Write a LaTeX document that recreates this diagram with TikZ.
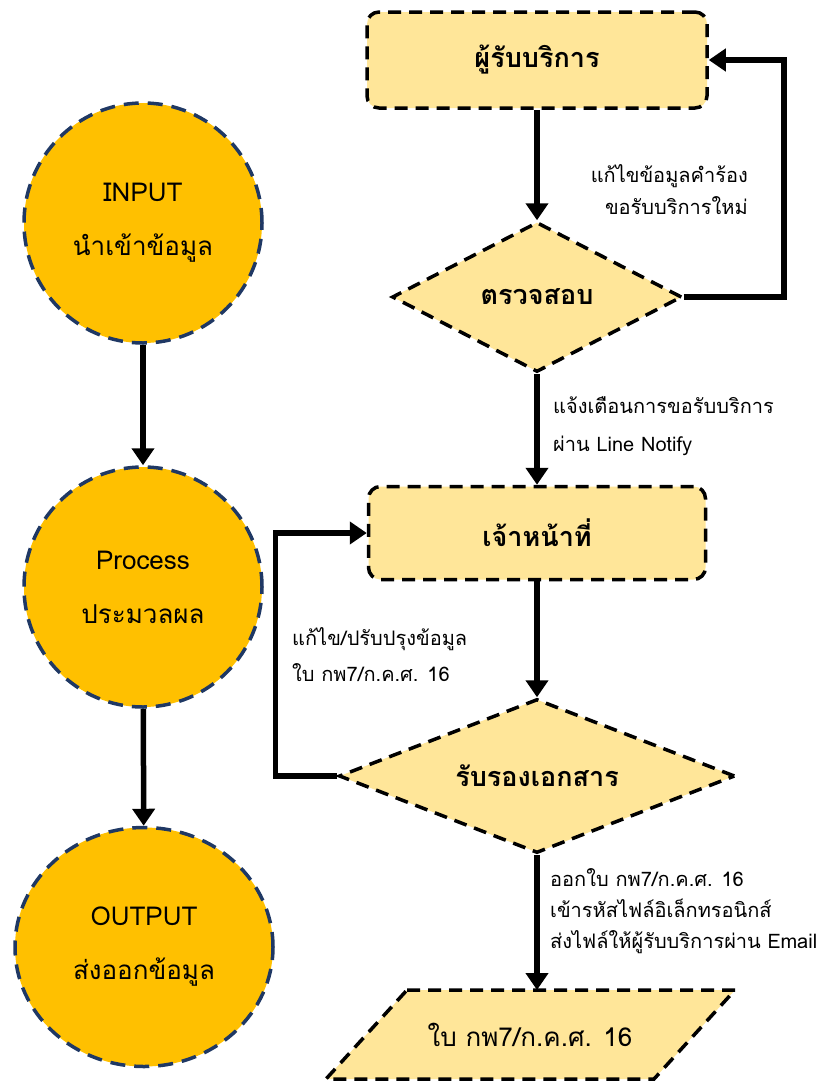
\documentclass[tikz,border=0pt]{standalone}
\usepackage{fontspec}
\usepackage{xcolor}
\usetikzlibrary{arrows.meta,shapes.geometric}
\newfontfamily\thaifont[Script=Thai]{Loma}
\definecolor{gold}{RGB}{255,192,0}
\definecolor{paleGold}{RGB}{255,230,153}
\definecolor{navyDash}{RGB}{31,56,100}

\begin{document}
\begin{tikzpicture}[x=1pt,y=1pt,yscale=-1,xscale=1,
  stage/.style={ellipse,draw=navyDash,fill=gold,line width=3.5pt,dash pattern=on 15pt off 9pt,inner sep=0pt,align=center,font=\thaifont\fontsize{26}{54}\selectfont},
  dashline/.style={draw=black,fill=paleGold,line width=3.5pt,dash pattern=on 13pt off 8pt},
  flowbox/.style={dashline,rectangle,rounded corners=12pt,inner sep=0pt,font=\thaifont\bfseries\fontsize{27}{30}\selectfont},
  decide/.style={dashline,diamond,inner sep=0pt,aspect=2,font=\thaifont\bfseries\fontsize{27}{30}\selectfont},
  note/.style={inner sep=0pt,font=\thaifont\fontsize{20}{32}\selectfont},
  flow/.style={line width=5.5pt,-{Triangle[width=22pt,length=17pt]}}
]
\useasboundingbox (0,0) rectangle (832,1084);

%Shape: Circle
\node [stage,minimum width=238,minimum height=240] (input) at (143,223) {INPUT\\นำเข้าข้อมูล};
%Shape: Circle
\node [stage,minimum width=238,minimum height=240] (process) at (143,587) {Process\\ประมวลผล};
%Shape: Circle
\node [stage,minimum width=258,minimum height=239] (output) at (144,947) {OUTPUT\\ส่งออกข้อมูล};

%Shape: Rectangle
\node [flowbox,minimum width=340,minimum height=96] (user) at (537,60) {ผู้รับบริการ};
%Shape: Diamond
\node [decide,minimum width=290,minimum height=150] (check) at (537,297) {ตรวจสอบ};
%Shape: Rectangle
\node [flowbox,minimum width=337,minimum height=93] (officer) at (537,533) {เจ้าหน้าที่};
%Shape: Diamond
\node [decide,minimum width=396,minimum height=154] (cert) at (537,776) {รับรองเอกสาร};
%Shape: Parallelogram
\draw [dashline] (407,990) -- (735,990) -- (654,1079) -- (326,1079) -- cycle;
\coordinate (docTop) at (537,990);
\node [inner sep=0pt,font=\thaifont\fontsize{26}{30}\selectfont] (doc) at (530,1035) {ใบ กพ7/ก.ค.ศ. 16};

%Straight Lines
\draw [flow] (input) -- (process);
\draw [flow] (process) -- (output);
\draw [flow] (user) -- (check);
\draw [flow] (check) -- (officer);
\draw [flow] (officer) -- (cert);
\draw [flow] (cert) -- (docTop);
%Straight Lines
\draw [flow] (check.east) -- ++(100,0) |- (user.east);
\draw [flow] (cert.west) -- ++(-62,0) |- (officer.west);

% Text Node
\node [note,anchor=east,align=right] (retry) at (748,190) {แก้ไขข้อมูลคำร้อง\\ขอรับบริการใหม่};
% Text Node
\node [note,anchor=west,align=left,font=\thaifont\fontsize{20}{38}\selectfont] (notify) at (553,426) {แจ้งเตือนการขอรับบริการ\\ผ่าน Line Notify};
% Text Node
\node [note,anchor=west,align=left,font=\thaifont\fontsize{20}{36}\selectfont] (revise) at (292,655) {แก้ไข/ปรับปรุงข้อมูล\\ใบ กพ7/ก.ค.ศ. 16};
% Text Node
\node [note,anchor=west,align=left,font=\thaifont\fontsize{20}{31}\selectfont] (issue) at (550,911) {ออกใบ กพ7/ก.ค.ศ. 16\\เข้ารหัสไฟล์อิเล็กทรอนิกส์\\ส่งไฟล์ให้ผู้รับบริการผ่าน Email};

\end{tikzpicture}
\end{document}
